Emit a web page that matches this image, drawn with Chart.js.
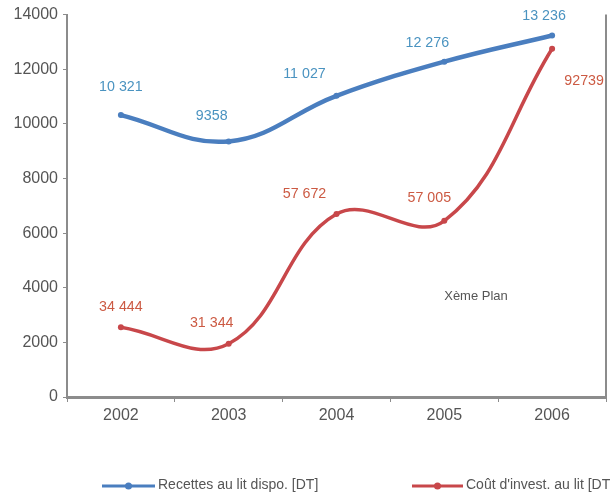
<!DOCTYPE html>
<html lang="fr">

<head>
    <meta charset="UTF-8">
    <title>Recettes et coût d'investissement au lit</title>
    <script src="https://cdn.jsdelivr.net/npm/chart.js"></script>
    <style>
        body {
            margin: 0;
            background: #fff;
        }

        #chart {
            display: block;
        }
    </style>
</head>

<body>
    <canvas id="chart" width="610" height="499"></canvas>

    <script>
        // data
        const years = ['2002', '2003', '2004', '2005', '2006'];
        const recettes = [10321, 9358, 11027, 12276, 13236];
        const cout = [2550, 1950, 6700, 6450, 12750];
        const recettesLabels = ['10 321', '9358', '11 027', '12 276', '13 236'];
        const coutLabels = ['34 444', '31 344', '57 672', '57 005', '92739'];
        const yTicks = [0, 2000, 4000, 6000, 8000, 10000, 12000, 14000];
        const seriesNames = ['Recettes au lit dispo. [DT]', 'Coût d\'invest. au lit [DT]'];
        const note = 'Xème Plan';

        const BLUE = '#4a7ebf';
        const RED = '#c8474a';
        const BLUE_TXT = '#4a93c0';
        const RED_TXT = '#cc5a43';
        const AXIS = '#8c8c8c';
        const FONT = "'Liberation Sans', Arial, sans-serif";

        // where each value label sits relative to its point (dx, dy)
        const labelOffsets = [
            [[0, -28], [-17, -26], [-32, -22], [-17, -19], [-8, -20]],
            [[0, -20], [-17, -21], [-32, -20], [-15, -23], [32, 32]]
        ];

        // text in the original is a narrow face, squeeze it horizontally
        function narrowText(ctx, text, x, y, sx) {
            ctx.save();
            ctx.translate(x, y);
            ctx.scale(sx, 1);
            ctx.fillText(text, 0, 0);
            ctx.restore();
        }

        const extras = {
            id: 'extras',
            afterDatasetsDraw(chart) {
                const ctx = chart.ctx;
                const area = chart.chartArea;
                ctx.save();

                // right border of the plot
                ctx.strokeStyle = AXIS;
                ctx.lineWidth = 2;
                ctx.beginPath();
                ctx.moveTo(area.right, area.top);
                ctx.lineTo(area.right, area.bottom + 1);
                ctx.stroke();

                // value labels
                ctx.font = '15px ' + FONT;
                ctx.textAlign = 'center';
                ctx.textBaseline = 'middle';
                const texts = [recettesLabels, coutLabels];
                const colors = [BLUE_TXT, RED_TXT];
                chart.data.datasets.forEach((ds, i) => {
                    const meta = chart.getDatasetMeta(i);
                    meta.data.forEach((pt, j) => {
                        ctx.fillStyle = colors[i];
                        narrowText(ctx, texts[i][j], pt.x + labelOffsets[i][j][0], pt.y + labelOffsets[i][j][1], 0.95);
                    });
                });

                // note
                ctx.fillStyle = '#555';
                ctx.font = '13px ' + FONT;
                ctx.fillText(note, 476, 296);

                // legend at the bottom
                const legend = [[102, 155, BLUE], [412, 463, RED]];
                ctx.textAlign = 'left';
                ctx.font = '14px ' + FONT;
                legend.forEach((l, i) => {
                    const y = 486;
                    ctx.strokeStyle = l[2];
                    ctx.lineWidth = 3;
                    ctx.beginPath();
                    ctx.moveTo(l[0], y);
                    ctx.lineTo(l[1], y);
                    ctx.stroke();
                    ctx.fillStyle = l[2];
                    ctx.beginPath();
                    ctx.arc((l[0] + l[1]) / 2, y, 3.5, 0, Math.PI * 2);
                    ctx.fill();
                    ctx.fillStyle = '#555';
                    ctx.fillText(seriesNames[i], l[1] + 3, y - 1);
                });
                ctx.restore();
            }
        };

        new Chart(document.getElementById('chart'), {
            type: 'line',
            data: {
                labels: years,
                datasets: [{
                    label: seriesNames[0],
                    data: recettes,
                    borderColor: BLUE,
                    backgroundColor: BLUE,
                    borderWidth: 4.5,
                    pointRadius: 3,
                    pointBorderWidth: 0,
                    tension: 0.4
                }, {
                    label: seriesNames[1],
                    data: cout,
                    borderColor: RED,
                    backgroundColor: RED,
                    borderWidth: 3.5,
                    pointRadius: 3,
                    pointBorderWidth: 0,
                    tension: 0.4
                }]
            },
            options: {
                responsive: false,
                animation: false,
                layout: {
                    padding: { left: 0, right: 3, top: 14, bottom: 0 }
                },
                plugins: {
                    legend: { display: false },
                    tooltip: { enabled: false }
                },
                scales: {
                    x: {
                        offset: true,
                        grid: {
                            display: true,
                            offset: true,
                            drawOnChartArea: false,
                            drawTicks: true,
                            tickLength: 5,
                            color: AXIS
                        },
                        border: { color: AXIS, width: 3 },
                        ticks: {
                            color: '#555',
                            padding: 4,
                            font: { family: FONT, size: 16 }
                        },
                        afterFit(axis) {
                            axis.height = 102;
                        }
                    },
                    y: {
                        min: 0,
                        max: 14000,
                        afterBuildTicks(axis) {
                            axis.ticks = yTicks.map(v => ({ value: v }));
                        },
                        grid: {
                            display: true,
                            drawOnChartArea: false,
                            drawTicks: true,
                            tickLength: 4,
                            color: AXIS
                        },
                        border: { color: AXIS, width: 2 },
                        ticks: {
                            color: '#555',
                            padding: 5,
                            font: { family: FONT, size: 16 },
                            callback: v => String(v)
                        },
                        afterFit(axis) {
                            axis.width = 67;
                        }
                    }
                }
            },
            plugins: [extras]
        });
    </script>
</body>

</html>
